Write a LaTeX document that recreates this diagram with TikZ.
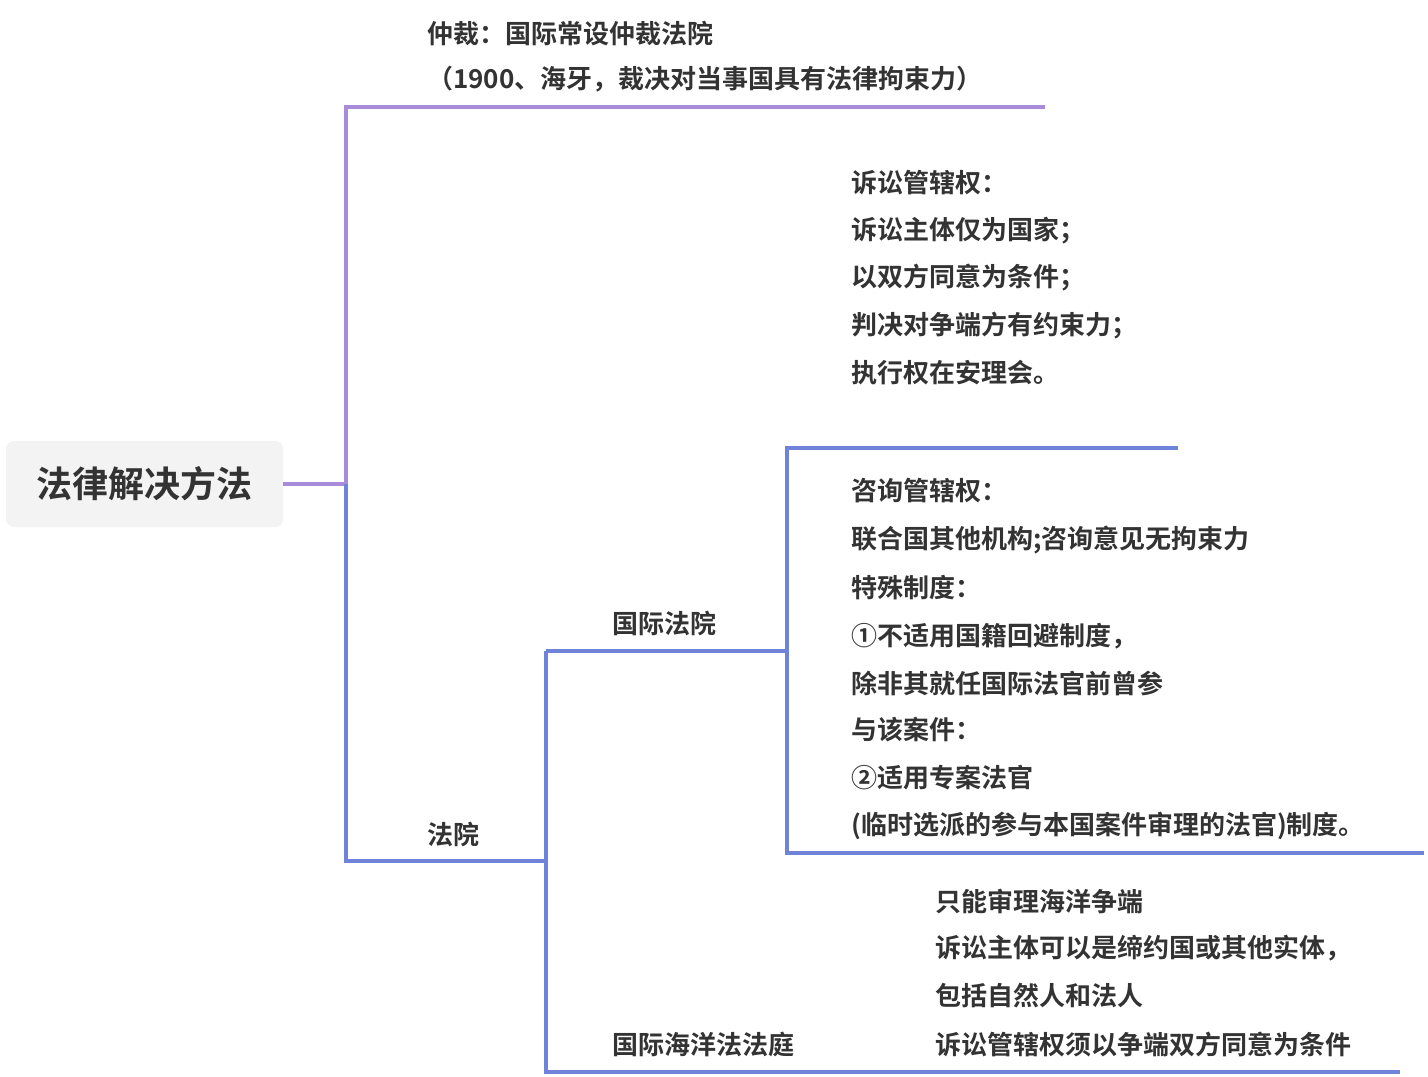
\documentclass[tikz,border=0pt]{standalone}
\usepackage{fontspec}
\setmainfont{Noto Sans CJK SC Bold}
\definecolor{pur}{HTML}{A98BDB}
\definecolor{blu}{HTML}{6F83D9}
\definecolor{boxg}{HTML}{F3F3F3}
\definecolor{txt}{HTML}{333333}
\begin{document}
\begin{tikzpicture}[x=0.75pt,y=-0.75pt,
  ln/.style={line width=3pt},
  tx/.style={anchor=west,inner sep=0pt,font=\fontsize{19.5pt}{22pt}\selectfont,text=txt}]
\useasboundingbox (0,0) rectangle (1428,1076);
\node[fill=boxg,rounded corners=6pt,minimum width=207.75pt,minimum height=64.5pt,inner sep=0pt,font=\fontsize{27pt}{30pt}\selectfont,text=txt] (root) at (144.5,484) {法律解决方法};
\coordinate (j) at (346,484);
\coordinate (t) at (346,107);
\coordinate (te) at (1045,107);
\coordinate (c) at (346,861);
\coordinate (ce) at (546,861);
\coordinate (i1) at (546,651);
\coordinate (i2) at (546,1072);
\coordinate (ie) at (787,651);
\coordinate (k1) at (787,448);
\coordinate (k1e) at (1178,448);
\coordinate (k2) at (787,853);
\coordinate (k2e) at (1424,853);
\coordinate (me) at (1400,1072);
\draw[ln,pur] (root.east) -- (j) -- (t) -- (te);
\draw[ln,blu] (j) -- (c) -- (ce);
\draw[ln,blu] (i1) -- (i2) -- (me);
\draw[ln,blu] (i1) -- (ie);
\draw[ln,blu] (k1e) -- (k1) -- (k2) -- (k2e);
\node[tx] (a1) at (427,33) {仲裁：国际常设仲裁法院};
\node[tx] (a2) at (427,79) {（1900、海牙，裁决对当事国具有法律拘束力）};
\node[tx] (fy) at (427,834) {法院};
\node[tx] (gj) at (612,623) {国际法院};
\node[tx] (hy) at (612,1044) {国际海洋法法庭};
\foreach \t/\y in {诉讼管辖权：/183,诉讼主体仅为国家；/231,以双方同意为条件；/278,判决对争端方有约束力；/326,执行权在安理会。/373}
  \node[tx] at (851,\y) {\t};
\foreach \t/\y in {咨询管辖权：/491,联合国其他机构;咨询意见无拘束力/540,特殊制度：/588,①不适用国籍回避制度，/636,除非其就任国际法官前曾参/683,与该案件：/730,②适用专案法官/778,(临时选派的参与本国案件审理的法官)制度。/826}
  \node[tx] at (851,\y) {\t};
\foreach \t/\y in {只能审理海洋争端/901,诉讼主体可以是缔约国或其他实体，/948,包括自然人和法人/996,诉讼管辖权须以争端双方同意为条件/1044}
  \node[tx] at (935,\y) {\t};
\end{tikzpicture}
\end{document}
